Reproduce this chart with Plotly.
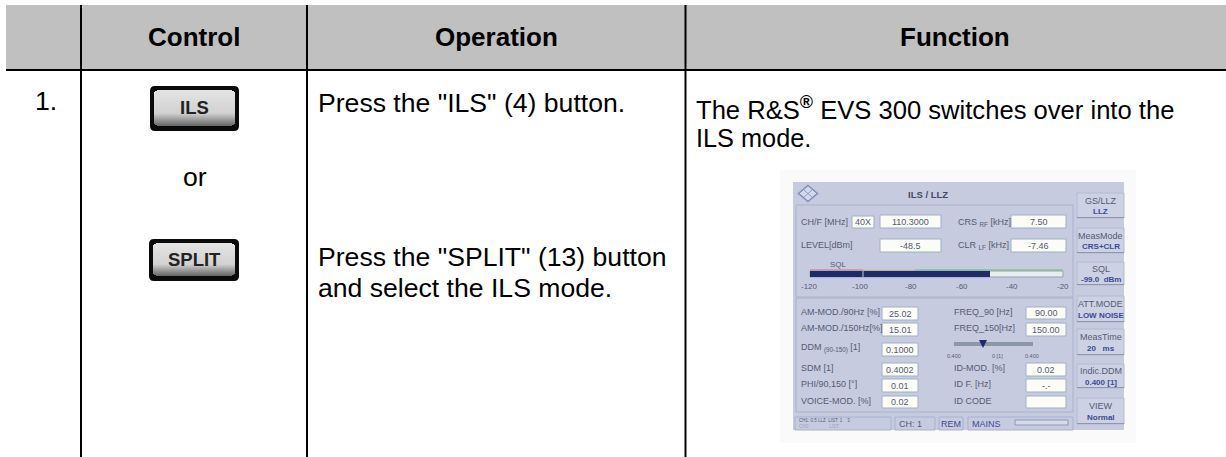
import plotly.graph_objects as go

# ---------- text content ----------
CLIPPED_TITLE = "Activates the ILS mode"
HEADERS = ["Control", "Operation", "Function"]
STEP = "1."
OR_TEXT = "or"
BUTTONS = ["ILS", "SPLIT"]
OPERATION_1 = 'Press the "ILS" (4) button.'
OPERATION_2 = ['Press the "SPLIT" (13) button', "and select the ILS mode."]
FUNCTION_LINES = ["The R&amp;S<sup><b>®</b></sup> EVS 300 switches over into the", "ILS mode."]

# ---------- instrument screen content ----------
SCREEN_TITLE = "ILS / LLZ"
TOP_LABELS = ["CH/F [MHz]", "LEVEL[dBm]", "CRS <sub>RF</sub> [kHz]", "CLR <sub>LF</sub> [kHz]"]
TOP_VALUES = ["40X", "110.3000", "-48.5", "7.50", "-7.46"]
LEFT_LABELS = ["AM-MOD./90Hz [%]", "AM-MOD./150Hz[%]", "DDM <sub>(90-150)</sub> [1]", "SDM [1]", "PHI/90,150 [°]", "VOICE-MOD. [%]"]
LEFT_VALUES = ["25.02", "15.01", "0.1000", "0.4002", "0.01", "0.02"]
RIGHT_LABELS = ["FREQ_90 [Hz]", "FREQ_150[Hz]", "ID-MOD. [%]", "ID F. [Hz]", "ID CODE"]
RIGHT_VALUES = ["90.00", "150.00", "0.02", "-.-", ""]
LEVEL_TICKS = ["-120", "-100", "-80", "-60", "-40", "-20"]
SQL_LABEL = "SQL"
DDM_TICKS = ["0.400", "0 [1]", "0.400"]
SIDE_TITLES = ["GS/LLZ", "MeasMode", "SQL", "ATT.MODE", "MeasTime", "Indic.DDM", "VIEW"]
SIDE_VALUES = ["LLZ", "CRS+CLR", "-99.0  dBm", "LOW NOISE", "20   ms", "0.400 [1]", "Normal"]
STATUS_LEFT = ["CH1: 0.5 LLZ  LIST: 1    3", "CH2:                LIST:"]
STATUS_CELLS = ["CH: 1", "REM", "MAINS"]

FONT = "Liberation Sans, Arial, sans-serif"
shapes, notes = [], []


def rect(x0, y0, x1, y1, fill, line=None, width=1, opacity=None):
    s = dict(type="rect", x0=x0, y0=y0, x1=x1, y1=y1, fillcolor=fill, layer="below",
             line=dict(color=line or "rgba(0,0,0,0)", width=width if line else 0))
    if opacity is not None:
        s["opacity"] = opacity
    shapes.append(s)


def text(x, y, t, size=26.6, color="#000000", anchor="left", bold=False, yanchor="middle", yshift=0):
    if not t:
        return
    notes.append(dict(x=x, y=y, text=f"<b>{t}</b>" if bold else t, showarrow=False, xanchor=anchor,
                      yanchor=yanchor, yshift=yshift, borderpad=0, borderwidth=0,
                      font=dict(family=FONT, size=size, color=color)))


# ---------- table ----------
rect(6, 5, 1226, 69, "#c0c0c0")
rect(6, 69, 1226, 71, "#000000")
for x in (81, 307, 685.5):
    rect(x - 1, 5, x + 1, 457, "#000000")

text(40, 5, CLIPPED_TITLE, size=24, bold=True, yanchor="bottom")
for cx, label in zip((194, 496, 955), HEADERS):
    text(cx, 37, label, size=26, anchor="center", bold=True)
text(35, 101, STEP)
text(195, 177, OR_TEXT, anchor="center")
text(318, 103, OPERATION_1)
text(318, 257, OPERATION_2[0])
text(318, 288, OPERATION_2[1])
text(696, 108, FUNCTION_LINES[0], size=25.6)
text(696, 138, FUNCTION_LINES[1], size=25.3)


# ---------- hardware buttons ----------
def button(x0, y0, x1, y1, label):
    r = 5
    shapes.append(dict(type="path", layer="below", fillcolor="#0a0a0a", line=dict(width=0),
                       path=f"M{x0+r},{y0} L{x1-r},{y0} Q{x1},{y0} {x1},{y0+r} L{x1},{y1-r} Q{x1},{y1} {x1-r},{y1} "
                            f"L{x0+r},{y1} Q{x0},{y1} {x0},{y1-r} L{x0},{y0+r} Q{x0},{y0} {x0+r},{y0} Z"))
    top, bot = y0 + 4, y1 - 5
    n = bot - top
    for i in range(n):
        f = i / max(n - 1, 1)
        v = int(228 - 28 * f) if f < 0.65 else int(210 - 105 * (f - 0.65) / 0.35)
        inset = 3 if i == 0 or i == n - 1 else 1 if i == 1 or i == n - 2 else 0
        rect(x0 + 4 + inset, top + i, x1 - 4 - inset, top + i + 1, f"rgb({v},{v},{v})")
    text((x0 + x1) / 2, (y0 + y1) / 2 - 1, label, size=18.5, color="#222222", anchor="center", bold=True)


button(150, 86, 239, 131, BUTTONS[0])
button(149, 239, 239, 281, BUTTONS[1])

# ---------- instrument screen ----------
PANEL = "#c6cbe0"
EDGE = "#a9b1cb"
INK = "#565b72"
BLUE = "#3c4a96"
FIELD = "#fbfcf6"

rect(780, 170, 1136, 443, "#fafafa")
rect(793, 182, 1124, 430, PANEL)
rect(796, 205, 1073, 297, PANEL, EDGE)
rect(796, 298, 1073, 412, PANEL, EDGE)


def field(x0, y0, x1, y1, value):
    rect(x0, y0, x1, y1, FIELD, "#9fb0c4")
    text((x0 + x1) / 2, (y0 + y1) / 2, value, size=9, color=INK, anchor="center")


# logo
shapes.append(dict(type="path", layer="below", fillcolor="#d5daea", line=dict(color="#7d8fc0", width=1.5),
                   path="M808,185.5 L817.5,193.5 L808,201.5 L798.5,193.5 Z"))
shapes.append(dict(type="path", layer="below", fillcolor="rgba(0,0,0,0)", line=dict(color="#8d9dc8", width=1),
                   path="M804,190 L812,197 M812,190 L804,197"))
text(928, 194, SCREEN_TITLE, size=9.5, color="#444a60", anchor="center", bold=True)

# upper block
for (x, y), label in zip(((801, 222), (801, 245), (958, 222), (958, 245)), TOP_LABELS):
    text(x, y, label, size=9, color=INK)
for (x0, y0, x1, y1), v in zip(((852, 216, 874, 228), (880, 215, 941, 228), (880, 239, 941, 252),
                                (1011, 215, 1066, 228), (1011, 239, 1066, 252)), TOP_VALUES):
    field(x0, y0, x1, y1, v)

# level bar
text(838, 264, SQL_LABEL, size=8, color=INK, anchor="center")
rect(810, 269, 863, 271, "#d99aa5")
rect(863, 269, 915, 271, "#d8c8a0")
rect(915, 269, 1063, 271, "#9cc2a8")
rect(810, 271, 1063, 277, "#e8eef0", "#8fa6ad")
rect(810, 271, 990, 277, "#1e2a6e")
rect(862.5, 271, 863.5, 277, "#c6cbe0")
for cx, label in zip((809, 860, 911, 962, 1012, 1063), LEVEL_TICKS):
    text(cx, 286, label, size=8, color=INK, anchor="center")

# lower block left
for y, label in zip((312, 328, 348, 368, 384, 401), LEFT_LABELS):
    text(801, y, label, size=9, color=INK)
for (y0, y1), v in zip(((307, 320), (323, 336), (343, 356), (363, 376), (379, 392), (396, 408)), LEFT_VALUES):
    field(882, y0, 918, y1, v)

# lower block right
for y, label in zip((312, 328, 368, 384, 401), RIGHT_LABELS):
    text(954, y, label, size=9, color=INK)
for (y0, y1), v in zip(((307, 319), (323, 336), (363, 376), (379, 392), (396, 408)), RIGHT_VALUES):
    field(1026, y0, 1066, y1, v)

# DDM slider
rect(954, 342, 1033, 346, "#8d97a8")
shapes.append(dict(type="path", layer="below", fillcolor="#1e2a6e", line=dict(width=0),
                   path="M979,340 L987,340 L983,348 Z"))
for cx, label in zip((954, 997, 1032), DDM_TICKS):
    text(cx, 356, label, size=5.5, color=INK, anchor="center")

# side soft keys
for (y0, y1), t, v in zip(((193, 218), (228, 253), (262, 285), (296, 322), (329, 355), (364, 388), (398, 424)),
                          SIDE_TITLES, SIDE_VALUES):
    rect(1077, y0, 1124, y1, "#ccd1e4", "#b4bad0")
    rect(1077, y1 - 1, 1124, y1, "#8f96b2")
    mid = (y0 + y1) / 2
    text(1100.5, mid - 5, t, size=9, color=INK, anchor="center")
    text(1100.5, mid + 6, v, size=8, color=BLUE, anchor="center", bold=True)

# status row
for x0, x1 in ((795, 891), (895, 935), (939, 963), (968, 1073)):
    rect(x0, 417, x1, 430, PANEL, EDGE)
text(799, 420, STATUS_LEFT[0], size=4.5, color=INK)
text(799, 426, STATUS_LEFT[1], size=4.5, color="#9aa0b8")
text(899, 424, STATUS_CELLS[0], size=9, color=INK)
text(951, 424, STATUS_CELLS[1], size=9, color=BLUE, anchor="center")
text(972, 424, STATUS_CELLS[2], size=9, color=BLUE)
rect(1015, 420, 1068, 425, "#d6dbe9", "#8d97b0")

fig = go.Figure()
fig.update_layout(
    width=1226, height=457, margin=dict(l=0, r=0, t=0, b=0),
    paper_bgcolor="#ffffff", plot_bgcolor="#ffffff", showlegend=False,
    xaxis=dict(range=[0, 1226], visible=False, fixedrange=True),
    yaxis=dict(range=[457, 0], visible=False, fixedrange=True),
    shapes=shapes, annotations=notes,
)
fig.write_html("out.html", config=dict(displayModeBar=False),
               post_script="document.body.style.margin='0';document.documentElement.style.overflow='hidden';")
